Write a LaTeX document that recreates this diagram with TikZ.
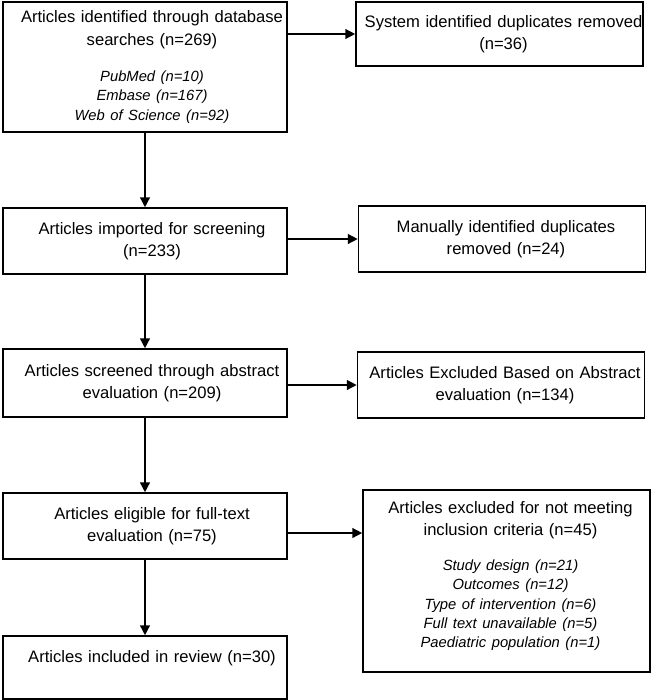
\documentclass[tikz,border=0pt]{standalone}
\usepackage{fontspec}
\setmainfont{Liberation Sans}
\usetikzlibrary{arrows.meta}

% italic breakdown under a box heading
\newcommand{\sublist}[2][11pt]{\par\vspace{#1}{\itshape\fontsize{10.5}{13.8}\selectfont #2\par}}

\begin{document}
\begin{tikzpicture}[x=0.025cm, y=-0.025cm, font=\fontsize{11.8}{15.8}\selectfont,
        lbox/.style={draw, line width=1.1pt, text width=7.1cm, align=center, inner xsep=0pt,
            execute at begin node={\advance\leftskip by 0.35cm}},
        rbox/.style={draw, line width=1.1pt, text width=7.175cm, align=center, inner xsep=0pt,
            execute at begin node={\advance\leftskip by 0.2cm}},
        arr/.style={line width=1pt, -{Triangle[length=7pt, width=7pt]}}]
            \useasboundingbox (0, 0) rectangle (651, 700);

            % Left column: records kept
            \node[lbox, minimum height=3.25cm] (ident) at (145, 67)
                {Articles identified through database\\ searches (n=269)\sublist[12pt]{PubMed (n=10)\\ Embase (n=167)\\ Web of Science (n=92)}};
            \node[lbox, minimum height=1.65cm] (imported) at (145, 241) {Articles imported for screening\\ (n=233)};
            \node[lbox, minimum height=1.7cm] (screened) at (145, 383) {Articles screened through abstract\\ evaluation (n=209)};
            \node[lbox, minimum height=1.65cm] (eligible) at (145, 526) {Articles eligible for full-text\\ evaluation (n=75)};
            \node[lbox, minimum height=1.575cm] (included) at (145, 667.5) {Articles included in review (n=30)\\ \mbox{}};

            % Right column: records removed
            \node[rbox, minimum height=1.6cm] (dupsys) at (499.5, 34) {System identified duplicates removed\\ (n=36)};
            \node[rbox, minimum height=1.65cm] (dupman) at (502, 239) {Manually identified duplicates\\ removed (n=24)};
            \node[rbox, minimum height=1.65cm] (exclabs) at (501, 385) {Articles Excluded Based on Abstract\\ evaluation (n=134)};
            \node[rbox, minimum height=4.55cm] (exclfull) at (506.5, 581)
                {Articles excluded for not meeting\\ inclusion criteria (n=45)\sublist{Study design (n=21)\\ Outcomes (n=12)\\ Type of intervention (n=6)\\ Full text unavailable (n=5)\\ Paediatric population (n=1)}\nointerlineskip\vbox to 7pt{}};

            % Flow down
            \draw[arr] (ident) -- (imported);
            \draw[arr] (imported) -- (screened);
            \draw[arr] (screened) -- (eligible);
            \draw[arr] (eligible) -- (included);

            % Flow out
            \coordinate (elig-out) at ([yshift=-0.175cm]eligible.east);
            \draw[arr] (ident.east |- dupsys.west) -- (dupsys.west);
            \draw[arr] (imported.east |- dupman.west) -- (dupman.west);
            \draw[arr] (screened.east |- exclabs.west) -- (exclabs.west);
            \draw[arr] (elig-out) -- (elig-out -| exclfull.west);
        \end{tikzpicture}
\end{document}
